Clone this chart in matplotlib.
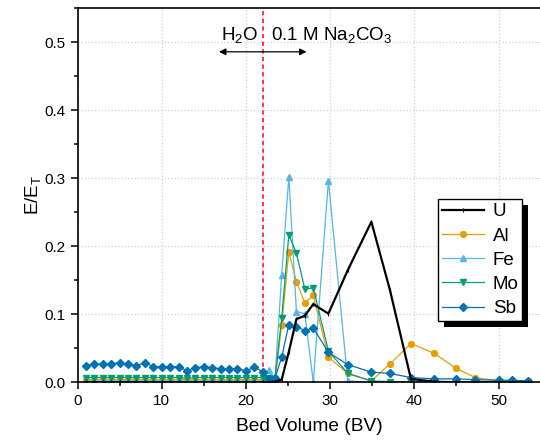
import matplotlib
matplotlib.use("Agg")
import matplotlib.pyplot as plt
from matplotlib.patches import Rectangle
from matplotlib.transforms import IdentityTransform
from matplotlib.ticker import MultipleLocator

plt.rcParams['font.family'] = ['Liberation Sans', 'DejaVu Sans']
plt.rcParams['mathtext.fontset'] = 'custom'
plt.rcParams['mathtext.rm'] = 'Liberation Sans'
plt.rcParams['mathtext.it'] = 'Liberation Sans:italic'

# bed volumes (shared by all elements)
bv = [1, 2, 3, 4, 5, 6, 7, 8, 9, 10, 11, 12, 13, 14, 15, 16, 17, 18, 19, 20, 21, 22,
      22.7, 23.45, 24.25, 25.1, 26.0, 27.0, 28.0, 29.8, 32.1, 34.9, 37.1, 39.6,
      42.3, 44.9, 47.2, 50.0, 51.6, 53.5]

# E/E_T
u = [0, 0, 0, 0, 0, 0, 0, 0, 0, 0, 0, 0, 0, 0, 0, 0, 0, 0, 0, 0, 0, 0,
     0.0, 0.001, 0.004, 0.045, 0.093, 0.098, 0.115, 0.101, 0.165, 0.236, 0.136, 0.005,
     0.001, 0.0, 0.0, 0.0, 0.0, 0.0]
al = [0.004, 0.004, 0.004, 0.004, 0.004, 0.004, 0.004, 0.004, 0.004, 0.004, 0.004,
      0.004, 0.004, 0.004, 0.004, 0.004, 0.004, 0.004, 0.004, 0.004, 0.004, 0.004,
      0.004, 0.003, 0.084, 0.192, 0.148, 0.117, 0.128, 0.037, 0.013, 0.002, 0.027, 0.057,
      0.043, 0.021, 0.007, 0.002, 0.001, 0.001]
fe = [0.002, 0.002, 0.002, 0.002, 0.002, 0.002, 0.002, 0.002, 0.002, 0.002, 0.002,
      0.002, 0.002, 0.002, 0.002, 0.002, 0.002, 0.002, 0.002, 0.002, 0.002, 0.002,
      0.018, 0.004, 0.158, 0.302, 0.104, 0.101, 0.0, 0.296, 0.002, 0.0, 0.0, 0.0,
      0.0, 0.0, 0.0, 0.0, 0.0, 0.0]
mo = [0.007, 0.007, 0.007, 0.007, 0.007, 0.007, 0.007, 0.007, 0.007, 0.007, 0.007,
      0.007, 0.006, 0.007, 0.007, 0.007, 0.007, 0.007, 0.007, 0.007, 0.007, 0.007,
      0.006, 0.005, 0.094, 0.217, 0.190, 0.137, 0.139, 0.046, 0.013, 0.002, 0.001, 0.001,
      0.0, 0.0, 0.0, 0.0, 0.0, 0.0]
sb = [0.0245, 0.027, 0.027, 0.027, 0.029, 0.027, 0.0245, 0.029, 0.023, 0.023, 0.023,
      0.023, 0.017, 0.0215, 0.023, 0.0215, 0.020, 0.020, 0.020, 0.017, 0.022, 0.0155,
      0.005, 0.006, 0.037, 0.085, 0.082, 0.076, 0.080, 0.044, 0.026, 0.015, 0.013, 0.007,
      0.005, 0.005, 0.004, 0.003, 0.003, 0.002]

switch_bv = 22

fig = plt.figure(figsize=(5.4, 4.43), dpi=100)
ax = fig.add_axes([77.5 / 540, 60.7 / 443, 463.1 / 540, 374 / 443])

ax.plot(bv, al, color='#E69F00', lw=0.9, marker='o', ms=4.2, label='Al')
ax.plot(bv, fe, color='#56B4E9', lw=0.9, marker='^', ms=4.8, label='Fe')
ax.plot(bv, mo, color='#009E73', lw=0.9, marker='v', ms=4.8, label='Mo')
ax.plot(bv, sb, color='#0072B2', lw=0.9, marker='D', ms=3.8, label='Sb')
ax.plot(bv, u, color='black', lw=1.6, marker='|', ms=2.5, mew=0.8, label='U', zorder=3)

# switch from water to carbonate
ax.axvline(switch_bv, color='red', lw=1.1, ls=(0, (2.8, 2.2)), zorder=1)
ax.annotate('', xy=(16.8, 0.486), xytext=(27.2, 0.486),
            arrowprops=dict(arrowstyle='<|-|>', color='black', lw=0.9,
                            mutation_scale=10, shrinkA=0, shrinkB=0))
ax.text(17.0, 0.503, 'H$_2$O', fontsize=13.5, ha='left', va='baseline')
ax.text(23.0, 0.503, '0.1 M Na$_2$CO$_3$', fontsize=13.5, ha='left', va='baseline')

ax.set_xlim(0, 55)
ax.set_ylim(0, 0.55)
ax.xaxis.set_major_locator(MultipleLocator(10))
ax.xaxis.set_minor_locator(MultipleLocator(5))
ax.yaxis.set_major_locator(MultipleLocator(0.1))
ax.yaxis.set_minor_locator(MultipleLocator(0.05))
ax.yaxis.set_major_formatter(lambda v, p: '%.1f' % v)
ax.tick_params(which='major', direction='out', length=5, width=1.1, labelsize=11,
               top=False, right=False)
ax.tick_params(which='minor', direction='out', length=3, width=1.1, top=False, right=False)
ax.grid(True, which='major', color='#d0d0d0', ls=':', lw=0.9)
ax.set_axisbelow(True)
ax.spines['right'].set_visible(False)
for s in ['left', 'bottom', 'top']:
    ax.spines[s].set_linewidth(1.2)

ax.set_xlabel('Bed Volume (BV)', fontsize=13.8, labelpad=7)
ax.set_ylabel('E/E$_\\mathrm{T}$', fontsize=13.5, labelpad=1)

handles, labels = ax.get_legend_handles_labels()
order = [4, 0, 1, 2, 3]
leg = ax.legend([handles[i] for i in order], [labels[i] for i in order],
                loc='upper left', bbox_to_anchor=(0.779, 0.489), borderaxespad=0,
                fontsize=13.5, fancybox=False, framealpha=1, edgecolor='black',
                borderpad=0.2, handlelength=2.25, handletextpad=0.45,
                labelspacing=0.38)
leg.get_frame().set_linewidth(1.0)

# black drop shadow behind the legend box
fig.canvas.draw()
bb = leg.get_frame().get_window_extent()
ax.add_patch(Rectangle((bb.x0 + 6, bb.y0 - 6), bb.width, bb.height,
                       transform=IdentityTransform(), facecolor='black',
                       edgecolor='none', clip_on=False, zorder=4.9))

fig.savefig('out.png', dpi=100)
